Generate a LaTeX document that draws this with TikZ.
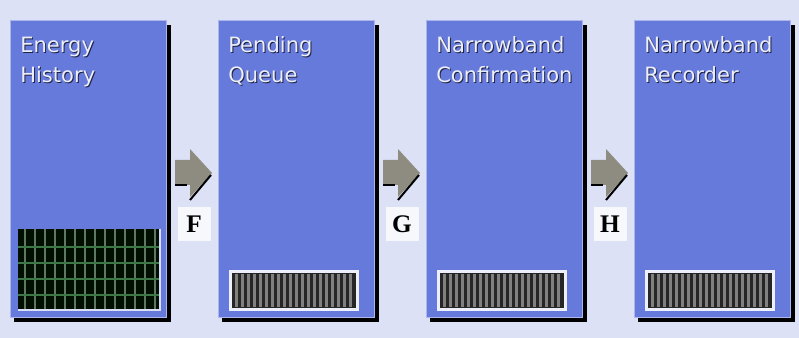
\documentclass[tikz,border=0pt]{standalone}
\usepackage{fontspec}
\setmainfont{DejaVu Sans}
\newfontfamily\labelfont{Liberation Serif}
\definecolor{bg}{RGB}{220,225,245}
\definecolor{boxblue}{RGB}{102,122,220}
\definecolor{arrowgrey}{RGB}{142,140,128}
\definecolor{gridgreen}{RGB}{60,120,70}
\definecolor{gridvert}{RGB}{95,120,100}
\definecolor{stripegrey}{RGB}{128,128,128}
\definecolor{bardark}{RGB}{38,38,38}
\definecolor{titlewhite}{RGB}{236,238,248}
\definecolor{titleshadow}{RGB}{30,34,70}
\tikzset{
  stage/.style={draw=boxblue!55!white, line width=0.75pt, fill=boxblue,
    minimum width=117pt, minimum height=222pt, inner sep=0pt},
  ttl/.style={anchor=base west, inner sep=0pt, text=titlewhite,
    font=\fontsize{15.8}{18}\selectfont},
  ttlshadow/.style={ttl, text=titleshadow},
  lab/.style={fill=white!75!bg, minimum width=24.75pt, minimum height=26pt,
    inner sep=0pt, font=\labelfont\bfseries\fontsize{19}{21}\selectfont},
  blockarrow/.style={fill=arrowgrey},
  arrowedge/.style={draw=black, line width=1.5pt},
}
\newcommand\shtext[4]{%
  \node[ttlshadow] (#1s) at (#2+1,#3+1) {#4};
  \node[ttl] (#1) at (#2,#3) {#4};}
\begin{document}
\begin{tikzpicture}[x=0.75pt,y=-0.75pt]
\fill[bg] (0,0) rectangle (799,338);
\useasboundingbox (0,0) rectangle (799,338);
% stages
\foreach \n/\x in {1/10,2/218,3/426,4/634} {
  \fill[black] (\x+4,25) rectangle (\x+161,322);
  \node[stage] (b\n) at (\x+78,169) {};
}
% titles
\shtext{t1a}{20}{53}{Energy}
\shtext{t1b}{20}{83}{History}
\shtext{t2a}{228}{53}{Pending}
\shtext{t2b}{228}{83}{Queue}
\shtext{t3a}{436}{53}{Narrowband}
\shtext{t3b}{436}{83}{Confirmation}
\shtext{t4a}{644}{53}{Narrowband}
\shtext{t4b}{644}{83}{Recorder}
% grid display in stage 1
\fill[black!94!green] (18,229) rectangle (160,310);
\foreach \gx in {25,35,...,155}
  \draw[gridvert, line width=0.8pt] (\gx,229) -- (\gx,310);
\foreach \gy in {247,263,279,295}
  \draw[gridgreen, line width=0.9pt] (18,\gy) -- (160,\gy);
\draw[white!75!boxblue, line width=1pt] (18,310) -- (160,310) -- (160,229);
% bar displays in stages 2-4
\foreach \x in {218,426,634} {
  \fill[white!88!boxblue] (\x+11,270) rectangle (\x+141,311);
  \fill[bardark] (\x+14,273) rectangle (\x+138,308);
  \foreach \k in {0,...,19}
    \fill[stripegrey] (\x+17+6*\k,274) rectangle (\x+20+6*\k,307);
}
% block arrows
\foreach \ax in {175,383,591} {
  \fill[blockarrow] (\ax,160) -- (\ax+15,160) -- (\ax+15,149) -- (\ax+37,173)
    -- (\ax+15,197) -- (\ax+15,185) -- (\ax,185) -- cycle;
  \draw[arrowedge] (\ax,185) -- (\ax+12,185);
  \draw[arrowedge] (\ax+15,200) -- (\ax+36,175);
}
% labels
\node[lab] (lF) at (194,224) {F};
\node[lab] (lG) at (402,224) {G};
\node[lab] (lH) at (610,224) {H};
\end{tikzpicture}
\end{document}
